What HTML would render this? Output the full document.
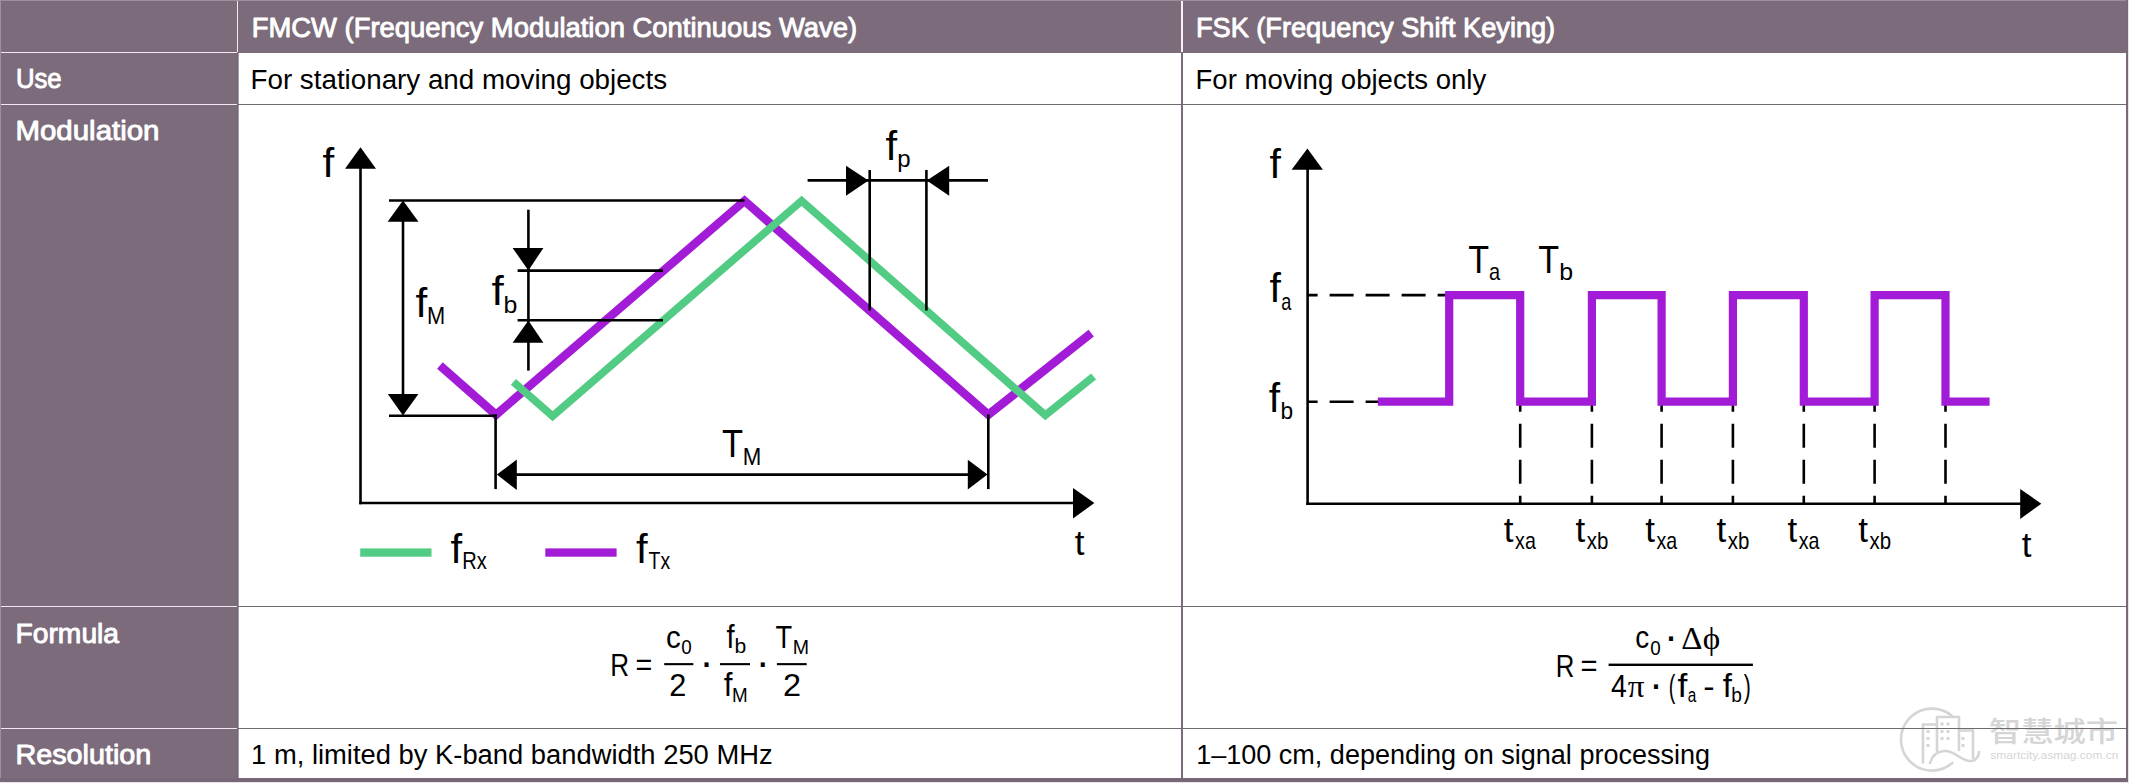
<!DOCTYPE html>
<html><head><meta charset="utf-8"><title>FMCW vs FSK</title>
<style>
html,body{margin:0;padding:0;background:#fff;}
svg{display:block;}
svg{font-family:"Liberation Sans", "Noto Sans CJK SC", sans-serif;}
</style></head>
<body>
<svg width="2129" height="783" viewBox="0 0 2129 783">
<rect x="0" y="0" width="2129" height="783" fill="#ebe1eb"/>
<rect x="0" y="0" width="2128" height="782" fill="#7b6b7b"/>
<rect x="0" y="0" width="2128" height="1" fill="#9e8e9e"/>
<rect x="0" y="0" width="1" height="778" fill="#9e8e9e"/>
<rect x="239" y="53" width="942" height="725" fill="#fff"/>
<rect x="1183" y="53" width="943" height="725" fill="#fff"/>
<rect x="236" y="53" width="2" height="725" fill="#756a75"/>
<rect x="238" y="53" width="1" height="725" fill="#a59ca5"/>
<rect x="1181" y="53" width="2" height="725" fill="#7a6c7b"/>
<rect x="2126" y="0" width="2" height="782" fill="#776978"/>
<rect x="237" y="1" width="1" height="51" fill="#f4eef4"/>
<rect x="1181" y="1" width="2" height="51" fill="#f8f2f8"/>
<rect x="1" y="52" width="236" height="1" fill="#f1e6f1"/>
<rect x="1" y="104" width="236" height="1" fill="#f1e6f1"/>
<rect x="1" y="606" width="236" height="1" fill="#f1e6f1"/>
<rect x="1" y="728" width="236" height="1" fill="#f1e6f1"/>
<rect x="238" y="104" width="1888" height="1" fill="#6f6a70"/>
<rect x="238" y="606" width="1888" height="1" fill="#6f6a70"/>
<rect x="238" y="728" width="1888" height="1" fill="#6f6a70"/>
<rect x="0" y="778" width="2128" height="4" fill="#766877"/>
<text x="251.65" y="36.6" font-size="27" fill="#ffffff" textLength="605.44" lengthAdjust="spacingAndGlyphs" stroke="#ffffff" stroke-width="0.9" stroke-linejoin="round">FMCW (Frequency Modulation Continuous Wave)</text>
<text x="1195.97" y="36.6" font-size="27" fill="#ffffff" textLength="359.21" lengthAdjust="spacingAndGlyphs" stroke="#ffffff" stroke-width="0.9" stroke-linejoin="round">FSK (Frequency Shift Keying)</text>
<text x="15.92" y="88.4" font-size="27" fill="#ffffff" textLength="45.73" lengthAdjust="spacingAndGlyphs" stroke="#ffffff" stroke-width="0.9" stroke-linejoin="round">Use</text>
<text x="15.48" y="140.2" font-size="27" fill="#ffffff" textLength="144.03" lengthAdjust="spacingAndGlyphs" stroke="#ffffff" stroke-width="0.9" stroke-linejoin="round">Modulation</text>
<text x="15.48" y="642.7" font-size="27" fill="#ffffff" textLength="103.62" lengthAdjust="spacingAndGlyphs" stroke="#ffffff" stroke-width="0.9" stroke-linejoin="round">Formula</text>
<text x="15.44" y="763.5" font-size="27" fill="#ffffff" textLength="135.93" lengthAdjust="spacingAndGlyphs" stroke="#ffffff" stroke-width="0.9" stroke-linejoin="round">Resolution</text>
<text x="250.52" y="88.9" font-size="27" textLength="416.58" lengthAdjust="spacingAndGlyphs">For stationary and moving objects</text>
<text x="1195.54" y="88.9" font-size="27" textLength="290.71" lengthAdjust="spacingAndGlyphs">For moving objects only</text>
<text x="251.12" y="763.7" font-size="27" textLength="521.55" lengthAdjust="spacingAndGlyphs">1 m, limited by K-band bandwidth 250 MHz</text>
<text x="1196.14" y="763.7" font-size="27" textLength="514.00" lengthAdjust="spacingAndGlyphs">1–100 cm, depending on signal processing</text>
<polyline points="439.9,365.5 496,414.8 744.5,200.9 988.4,414.7 1091.2,333.1" fill="none" stroke="#a21bd6" stroke-width="8.5" stroke-linejoin="miter" stroke-miterlimit="10"/>
<polyline points="513.4,381.9 552.6,416.1 801.6,200.8 1045.3,415.2 1093.6,376.5" fill="none" stroke="#52cc84" stroke-width="7.8" stroke-linejoin="miter" stroke-miterlimit="10"/>
<line x1="360.5" y1="166" x2="360.5" y2="504.3" stroke="#000" stroke-width="2.6"/>
<polygon points="360.5,147.3 345,168.8 376,168.8" fill="#000"/>
<line x1="359.2" y1="503" x2="1075" y2="503" stroke="#000" stroke-width="2.6"/>
<polygon points="1094.4,503 1073,488 1073,518.5" fill="#000"/>
<line x1="389" y1="200.5" x2="744.5" y2="200.5" stroke="#000" stroke-width="2.6"/>
<line x1="389" y1="415.8" x2="496.9" y2="415.8" stroke="#000" stroke-width="2.6"/>
<line x1="403" y1="220" x2="403" y2="396" stroke="#000" stroke-width="2.6"/>
<polygon points="403,200.5 387.6,221.8 418.5,221.8" fill="#000"/>
<polygon points="403,415.5 387.8,394 418.4,394" fill="#000"/>
<line x1="528.4" y1="209.7" x2="528.4" y2="250" stroke="#000" stroke-width="2.6"/>
<polygon points="528.4,270.4 512.6,248 543.4,248" fill="#000"/>
<line x1="517.6" y1="270.6" x2="663" y2="270.6" stroke="#000" stroke-width="2.6"/>
<line x1="517.6" y1="320.3" x2="663" y2="320.3" stroke="#000" stroke-width="2.6"/>
<polygon points="528.4,320.4 512.6,342.7 543.4,342.7" fill="#000"/>
<line x1="528.4" y1="341" x2="528.4" y2="370.6" stroke="#000" stroke-width="2.6"/>
<line x1="528.4" y1="268" x2="528.4" y2="322" stroke="#000" stroke-width="2.6"/>
<line x1="495.6" y1="414.5" x2="495.6" y2="489.1" stroke="#000" stroke-width="2.6"/>
<line x1="988.3" y1="414.5" x2="988.3" y2="489.1" stroke="#000" stroke-width="2.6"/>
<line x1="500" y1="474.6" x2="985" y2="474.6" stroke="#000" stroke-width="2.6"/>
<polygon points="496.9,474.6 516.8,459.5 516.8,489.9" fill="#000"/>
<polygon points="987.5,474.6 967.8,459.7 967.8,489.6" fill="#000"/>
<line x1="807.6" y1="180.4" x2="850" y2="180.4" stroke="#000" stroke-width="2.6"/>
<line x1="866" y1="180.4" x2="930" y2="180.4" stroke="#000" stroke-width="2.6"/>
<line x1="945" y1="180.4" x2="988" y2="180.4" stroke="#000" stroke-width="2.6"/>
<polygon points="868.5,180.4 846,165.8 846,195.8" fill="#000"/>
<polygon points="926.8,180.4 949.2,165.8 949.2,195.8" fill="#000"/>
<line x1="869.7" y1="170" x2="869.7" y2="310.5" stroke="#000" stroke-width="2.6"/>
<line x1="926.4" y1="170" x2="926.4" y2="310.5" stroke="#000" stroke-width="2.6"/>
<rect x="360.2" y="548.4" width="71.3" height="8.3" fill="#52cc84"/>
<rect x="545.3" y="548.4" width="71.3" height="8.3" fill="#a21bd6"/>
<text x="322.50" y="176.7" font-size="39.8" textLength="11.74" lengthAdjust="spacingAndGlyphs">f</text>
<text x="415.50" y="316.8" font-size="39.8" textLength="11.74" lengthAdjust="spacingAndGlyphs">f</text>
<text x="427.01" y="324" font-size="24" textLength="18.18" lengthAdjust="spacingAndGlyphs">M</text>
<text x="491.48" y="304.7" font-size="39.8" textLength="12.26" lengthAdjust="spacingAndGlyphs">f</text>
<text x="503.49" y="312.6" font-size="24" textLength="13.85" lengthAdjust="spacingAndGlyphs">b</text>
<text x="885.51" y="159.7" font-size="39.8" textLength="11.63" lengthAdjust="spacingAndGlyphs">f</text>
<text x="897.15" y="166.6" font-size="24" textLength="13.36" lengthAdjust="spacingAndGlyphs">p</text>
<text x="722.03" y="456.8" font-size="39" textLength="21.07" lengthAdjust="spacingAndGlyphs">T</text>
<text x="742.77" y="464.8" font-size="24" textLength="18.55" lengthAdjust="spacingAndGlyphs">M</text>
<text x="1074.77" y="555.3" font-size="35">t</text>
<text x="450.61" y="562.7" font-size="39.8" textLength="11.63" lengthAdjust="spacingAndGlyphs">f</text>
<text x="462.25" y="569.2" font-size="24" textLength="24.56" lengthAdjust="spacingAndGlyphs">Rx</text>
<text x="636.01" y="562.7" font-size="39.8" textLength="11.63" lengthAdjust="spacingAndGlyphs">f</text>
<text x="648.56" y="569.2" font-size="24" textLength="21.54" lengthAdjust="spacingAndGlyphs">Tx</text>
<line x1="1307.6" y1="166" x2="1307.6" y2="505" stroke="#000" stroke-width="2.6"/>
<polygon points="1307.4,148.6 1291.6,169.7 1322.9,169.7" fill="#000"/>
<line x1="1306.3" y1="503.7" x2="2022" y2="503.7" stroke="#000" stroke-width="2.6"/>
<polygon points="2041.3,503.7 2020.2,489 2020.2,519" fill="#000"/>
<line x1="1307.6" y1="295.1" x2="1449" y2="295.1" stroke="#000" stroke-width="2.6" stroke-dasharray="24 12" stroke-dashoffset="14"/>
<line x1="1307.6" y1="401.7" x2="1379" y2="401.7" stroke="#000" stroke-width="2.6" stroke-dasharray="24 12" stroke-dashoffset="14"/>
<line x1="1520.2" y1="401.7" x2="1520.2" y2="503.7" stroke="#000" stroke-width="2.6" stroke-dasharray="24 12" stroke-dashoffset="14"/>
<line x1="1591.9" y1="401.7" x2="1591.9" y2="503.7" stroke="#000" stroke-width="2.6" stroke-dasharray="24 12" stroke-dashoffset="14"/>
<line x1="1661.6" y1="401.7" x2="1661.6" y2="503.7" stroke="#000" stroke-width="2.6" stroke-dasharray="24 12" stroke-dashoffset="14"/>
<line x1="1732.9" y1="401.7" x2="1732.9" y2="503.7" stroke="#000" stroke-width="2.6" stroke-dasharray="24 12" stroke-dashoffset="14"/>
<line x1="1803.8" y1="401.7" x2="1803.8" y2="503.7" stroke="#000" stroke-width="2.6" stroke-dasharray="24 12" stroke-dashoffset="14"/>
<line x1="1874.6" y1="401.7" x2="1874.6" y2="503.7" stroke="#000" stroke-width="2.6" stroke-dasharray="24 12" stroke-dashoffset="14"/>
<line x1="1945.5" y1="401.7" x2="1945.5" y2="503.7" stroke="#000" stroke-width="2.6" stroke-dasharray="24 12" stroke-dashoffset="14"/>
<path d="M1377.8,401.7 H1449.2 V295.2 H1520.2 V401.7 H1591.9 V295.2 H1661.6 V401.7 H1732.9 V295.2 H1803.8 V401.7 H1874.6 V295.2 H1945.5 V401.7 H1989.6" fill="none" stroke="#a21bd6" stroke-width="8.2" stroke-linejoin="miter"/>
<text x="1269.62" y="177.8" font-size="39.8" textLength="11.42" lengthAdjust="spacingAndGlyphs">f</text>
<text x="1269.62" y="301.6" font-size="39.8" textLength="11.42" lengthAdjust="spacingAndGlyphs">f</text>
<text x="1281.23" y="309.7" font-size="24" textLength="10.07" lengthAdjust="spacingAndGlyphs">a</text>
<text x="1268.72" y="411.7" font-size="39.8" textLength="11.32" lengthAdjust="spacingAndGlyphs">f</text>
<text x="1280.54" y="419.1" font-size="24" textLength="12.61" lengthAdjust="spacingAndGlyphs">b</text>
<text x="1468.13" y="273" font-size="39" textLength="20.85" lengthAdjust="spacingAndGlyphs">T</text>
<text x="1489.05" y="280.4" font-size="24" textLength="11.15" lengthAdjust="spacingAndGlyphs">a</text>
<text x="1538.23" y="273" font-size="39" textLength="20.85" lengthAdjust="spacingAndGlyphs">T</text>
<text x="1559.19" y="280.4" font-size="24" textLength="13.85" lengthAdjust="spacingAndGlyphs">b</text>
<text x="1503.87" y="541.8" font-size="35">t</text>
<text x="1515.08" y="549.2" font-size="24" textLength="20.72" lengthAdjust="spacingAndGlyphs">xa</text>
<text x="1575.57" y="541.8" font-size="35">t</text>
<text x="1586.77" y="549.2" font-size="24" textLength="21.59" lengthAdjust="spacingAndGlyphs">xb</text>
<text x="1645.27" y="541.8" font-size="35">t</text>
<text x="1656.48" y="549.2" font-size="24" textLength="20.72" lengthAdjust="spacingAndGlyphs">xa</text>
<text x="1716.57" y="541.8" font-size="35">t</text>
<text x="1727.77" y="549.2" font-size="24" textLength="21.59" lengthAdjust="spacingAndGlyphs">xb</text>
<text x="1787.47" y="541.8" font-size="35">t</text>
<text x="1798.68" y="549.2" font-size="24" textLength="20.72" lengthAdjust="spacingAndGlyphs">xa</text>
<text x="1858.27" y="541.8" font-size="35">t</text>
<text x="1869.47" y="549.2" font-size="24" textLength="21.59" lengthAdjust="spacingAndGlyphs">xb</text>
<text x="2021.87" y="556.8" font-size="35">t</text>
<text x="610.36" y="675.8" font-size="31.5" textLength="18.85" lengthAdjust="spacingAndGlyphs">R</text>
<text x="635.59" y="674.9" font-size="31.5" textLength="16.83" lengthAdjust="spacingAndGlyphs">=</text>
<rect x="664.2" y="663.1" width="29.1" height="2.1" fill="#000"/>
<text x="666.05" y="647.7" font-size="31.5" textLength="14.73" lengthAdjust="spacingAndGlyphs">c</text>
<text x="681.26" y="653.6" font-size="20" textLength="10.47" lengthAdjust="spacingAndGlyphs">0</text>
<text x="669.25" y="695.7" font-size="31.5" textLength="17.09" lengthAdjust="spacingAndGlyphs">2</text>
<text x="699.62" y="676.2" font-size="42">·</text>
<rect x="720" y="663.1" width="30" height="2.1" fill="#000"/>
<text x="726.59" y="648" font-size="33" textLength="8.07" lengthAdjust="spacingAndGlyphs">f</text>
<text x="734.44" y="653.3" font-size="20" textLength="11.75" lengthAdjust="spacingAndGlyphs">b</text>
<text x="723.76" y="695.7" font-size="33" textLength="8.70" lengthAdjust="spacingAndGlyphs">f</text>
<text x="732.05" y="702" font-size="20" textLength="15.69" lengthAdjust="spacingAndGlyphs">M</text>
<text x="755.82" y="676.2" font-size="42">·</text>
<rect x="776.9" y="663.1" width="29.8" height="2.1" fill="#000"/>
<text x="775.59" y="648" font-size="31.5" textLength="16.64" lengthAdjust="spacingAndGlyphs">T</text>
<text x="792.79" y="654.3" font-size="20" textLength="16.31" lengthAdjust="spacingAndGlyphs">M</text>
<text x="782.97" y="695.7" font-size="31.5" textLength="18.07" lengthAdjust="spacingAndGlyphs">2</text>
<text x="1555.79" y="677" font-size="31.5" textLength="18.61" lengthAdjust="spacingAndGlyphs">R</text>
<text x="1580.57" y="675.9" font-size="31.5" textLength="17.07" lengthAdjust="spacingAndGlyphs">=</text>
<rect x="1608.6" y="663.6" width="144.3" height="2.4" fill="#000"/>
<text x="1635.22" y="648.4" font-size="31.5" textLength="13.92" lengthAdjust="spacingAndGlyphs">c</text>
<text x="1650.26" y="654.8" font-size="20" textLength="10.47" lengthAdjust="spacingAndGlyphs">0</text>
<text x="1663.92" y="649.5" font-size="42">·</text>
<text x="1681.34" y="648.7" font-size="31.5" font-family='"Liberation Serif", serif' textLength="21.19" lengthAdjust="spacingAndGlyphs">Δ</text>
<text x="1702.78" y="649" font-size="31.5" font-family='"Liberation Serif", serif' textLength="17.47" lengthAdjust="spacingAndGlyphs">ϕ</text>
<text x="1610.95" y="696.9" font-size="31.5" textLength="15.78" lengthAdjust="spacingAndGlyphs">4</text>
<text x="1627.75" y="696.9" font-size="31.5" font-family='"Liberation Serif", serif' textLength="16.76" lengthAdjust="spacingAndGlyphs">π</text>
<text x="1649.02" y="697.8" font-size="42">·</text>
<text x="1668.68" y="696.9" font-size="31.5" textLength="6.53" lengthAdjust="spacingAndGlyphs">(</text>
<text x="1677.60" y="696.9" font-size="33" textLength="9.85" lengthAdjust="spacingAndGlyphs">f</text>
<text x="1687.65" y="702.4" font-size="20" textLength="8.55" lengthAdjust="spacingAndGlyphs">a</text>
<text x="1703.29" y="697" font-size="31.5" textLength="11.32" lengthAdjust="spacingAndGlyphs">-</text>
<text x="1722.74" y="696.9" font-size="33" textLength="9.12" lengthAdjust="spacingAndGlyphs">f</text>
<text x="1731.37" y="702.4" font-size="20" textLength="10.64" lengthAdjust="spacingAndGlyphs">b</text>
<text x="1743.78" y="696.9" font-size="31.5" textLength="7.03" lengthAdjust="spacingAndGlyphs">)</text>
<g fill="none" stroke="#d5d5d5" stroke-width="2.6" stroke-linecap="round"><path d="M1952.3,716.2 A31,31 0 1 0 1952.3,763"/><path d="M1923,762.5 V724.5 H1936"/><path d="M1937,751 V717 H1959 V750"/><path d="M1959,730.5 H1973 V758"/><path d="M1930,763 Q1933,752 1944,751 C1956,750 1960,762 1972,761 C1977,760 1979,755 1979,752"/></g>
<rect x="1926.5" y="730" width="3" height="3" fill="#d5d5d5"/>
<rect x="1926.5" y="737" width="3" height="3" fill="#d5d5d5"/>
<rect x="1926.5" y="744" width="3" height="3" fill="#d5d5d5"/>
<rect x="1940.5" y="722.5" width="3" height="3" fill="#d5d5d5"/>
<rect x="1946.5" y="722.5" width="3" height="3" fill="#d5d5d5"/>
<rect x="1940.5" y="730" width="3" height="3" fill="#d5d5d5"/>
<rect x="1946.5" y="730" width="3" height="3" fill="#d5d5d5"/>
<rect x="1940.5" y="737" width="3" height="3" fill="#d5d5d5"/>
<rect x="1946.5" y="737" width="3" height="3" fill="#d5d5d5"/>
<rect x="1961.5" y="737" width="3" height="3" fill="#d5d5d5"/>
<rect x="1961.5" y="744" width="3" height="3" fill="#d5d5d5"/>
<text x="1989" y="742" font-size="28.5" font-weight="500" font-family="'Noto Sans CJK SC', sans-serif" fill="#d5d5d5" textLength="129" lengthAdjust="spacingAndGlyphs">智慧城市</text>
<text x="1990.37" y="758.7" font-size="11.7" fill="#d5d5d5" textLength="128.00" lengthAdjust="spacingAndGlyphs">smartcity.asmag.com.cn</text>
<rect x="1888" y="728" width="238" height="1" fill="#6f6a70"/>
</svg>
</body></html>
